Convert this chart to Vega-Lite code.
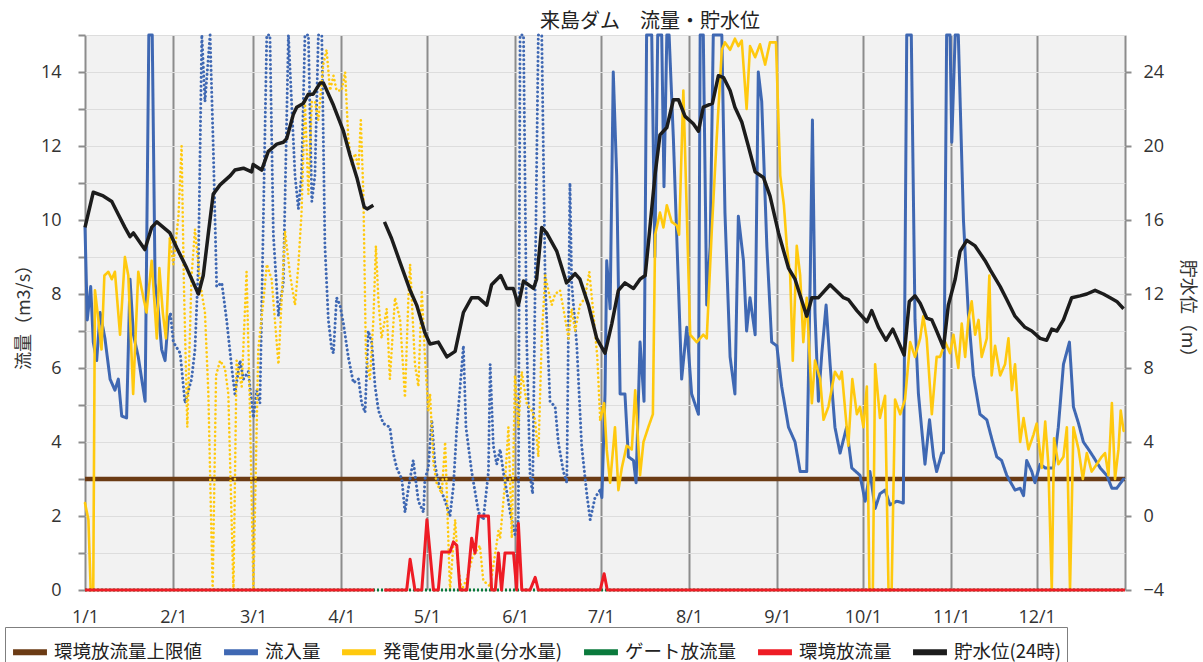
{
  "$schema": "https://vega.github.io/schema/vega-lite/v6.json",
  "width": 1040,
  "height": 555,
  "autosize": "none",
  "padding": {"left": 85, "top": 35, "right": 78, "bottom": 72},
  "background": "white",
  "title": {"text": "来島ダム　流量・貯水位", "font": "Noto Sans CJK JP", "fontSize": 20, "fontWeight": "normal", "color": "#222", "anchor": "middle", "dx": 45, "offset": -6},
  "config": {
    "view": {"fill": "#f2f2f2", "stroke": null},
    "line": {"strokeJoin": "round", "clip": true},
    "axis": {"labelColor": "#333", "titleColor": "#333", "labelFont": "Open Sans", "labelFontSize": 18, "titleFont": "Noto Sans CJK JP", "titleFontSize": 18, "titleFontWeight": "normal", "domain": false},
    "legend": {"labelFont": "Noto Sans CJK JP", "labelFontSize": 18.5, "labelColor": "#222", "labelLimit": 400}
  },
  "datasets": {
    "inflow": [
      {"d":0,"v":9.8,"g":"a"},{"d":0.8,"v":7.3,"g":"a"},{"d":2,"v":8.2,"g":"a"},{"d":2.9,"v":6.7,"g":"a"},{"d":4.1,"v":6.2,"g":"a"},{"d":5.3,"v":7.5,"g":"a"},{"d":7,"v":6.8,"g":"a"},{"d":8.8,"v":5.7,"g":"a"},{"d":10.5,"v":5.4,"g":"a"},{"d":11.7,"v":5.7,"g":"a"},{"d":12.9,"v":4.7,"g":"a"},{"d":14.6,"v":4.65,"g":"a"},{"d":15.8,"v":8.4,"g":"a"},{"d":17,"v":6.9,"g":"a"},{"d":18.7,"v":6.3,"g":"a"},{"d":21.1,"v":5.1,"g":"a"},{"d":22.4,"v":15,"g":"a"},{"d":23.6,"v":15,"g":"a"},{"d":24.6,"v":8.3,"g":"a"},{"d":25.7,"v":7.6,"g":"a"},{"d":26.9,"v":6.5,"g":"a"},{"d":28.1,"v":6.2,"g":"a"},{"d":29.2,"v":7.3,"g":"a"},{"d":30,"v":7.45,"g":"a"},
      {"d":30,"v":7.45,"g":"b"},{"d":31,"v":6.7,"g":"b"},{"d":33.4,"v":6.4,"g":"b"},{"d":35.1,"v":5.05,"g":"b"},{"d":37.4,"v":5.7,"g":"b"},{"d":38.6,"v":6.5,"g":"b"},{"d":39.8,"v":8.8,"g":"b"},{"d":41,"v":15,"g":"b"},{"d":42.1,"v":13.2,"g":"b"},{"d":43.9,"v":15,"g":"b"},{"d":45,"v":12,"g":"b"},{"d":46.2,"v":8.2,"g":"b"},{"d":48,"v":8.3,"g":"b"},{"d":49.7,"v":7.3,"g":"b"},{"d":51.5,"v":6.0,"g":"b"},{"d":52.6,"v":5.3,"g":"b"},{"d":54.4,"v":6.2,"g":"b"},{"d":55.6,"v":5.7,"g":"b"},{"d":57.3,"v":5.9,"g":"b"},{"d":59.1,"v":4.65,"g":"b"},{"d":60.3,"v":5.4,"g":"b"},{"d":61.4,"v":5.05,"g":"b"},{"d":63.8,"v":15,"g":"b"},{"d":64.9,"v":15,"g":"b"},{"d":66.1,"v":9.6,"g":"b"},{"d":67.9,"v":7.4,"g":"b"},{"d":69.6,"v":8.3,"g":"b"},{"d":71.4,"v":15,"g":"b"},{"d":73.7,"v":11.2,"g":"b"},{"d":74.9,"v":10.3,"g":"b"},{"d":76,"v":11.2,"g":"b"},{"d":77.2,"v":15,"g":"b"},{"d":78.4,"v":15,"g":"b"},{"d":79.6,"v":10.5,"g":"b"},{"d":80.7,"v":11.2,"g":"b"},{"d":81.9,"v":15,"g":"b"},{"d":83.1,"v":15,"g":"b"},{"d":84.2,"v":9.3,"g":"b"},{"d":85.4,"v":7.3,"g":"b"},{"d":86.6,"v":6.5,"g":"b"},{"d":87.2,"v":6.4,"g":"b"},{"d":88.3,"v":7.9,"g":"b"},{"d":89.5,"v":7.7,"g":"b"},{"d":90.7,"v":7.2,"g":"b"},{"d":92.4,"v":6.3,"g":"b"},{"d":94.2,"v":5.6,"g":"b"},{"d":96,"v":5.7,"g":"b"},{"d":97.1,"v":5.05,"g":"b"},{"d":98.3,"v":4.8,"g":"b"},{"d":99.4,"v":7.0,"g":"b"},{"d":100.6,"v":6.7,"g":"b"},{"d":101.8,"v":5.5,"g":"b"},{"d":103,"v":4.85,"g":"b"},{"d":104.7,"v":4.5,"g":"b"},{"d":107,"v":4.4,"g":"b"},{"d":108.2,"v":3.7,"g":"b"},{"d":109.4,"v":3.3,"g":"b"},{"d":111.2,"v":3.0,"g":"b"},{"d":112.3,"v":2.1,"g":"b"},{"d":113.5,"v":2.75,"g":"b"},{"d":115.2,"v":3.5,"g":"b"},{"d":117,"v":2.4,"g":"b"},{"d":118.8,"v":2.1,"g":"b"},{"d":119.3,"v":3.0,"g":"b"},{"d":120.5,"v":3.3,"g":"b"},{"d":121.7,"v":4.6,"g":"b"},{"d":122.8,"v":3.4,"g":"b"},{"d":124,"v":2.9,"g":"b"},{"d":126.4,"v":2.4,"g":"b"},{"d":128.1,"v":2.0,"g":"b"},{"d":129.3,"v":2.8,"g":"b"},{"d":130.5,"v":4.4,"g":"b"},{"d":132.2,"v":6.0,"g":"b"},{"d":132.8,"v":6.6,"g":"b"},{"d":133.7,"v":4.4,"g":"b"},{"d":135.7,"v":3.2,"g":"b"},{"d":138.1,"v":2.1,"g":"b"},{"d":139.8,"v":1.9,"g":"b"},{"d":141.6,"v":3.2,"g":"b"},{"d":142.2,"v":6.1,"g":"b"},{"d":143.3,"v":3.9,"g":"b"},{"d":144.5,"v":3.4,"g":"b"},{"d":145.7,"v":3.8,"g":"b"},{"d":146.8,"v":3.2,"g":"b"},{"d":148.6,"v":2.4,"g":"b"},{"d":149.2,"v":2.1,"g":"b"},{"d":150.9,"v":1.5,"g":"b"},{"d":152.1,"v":1.9,"g":"b"},{"d":152.7,"v":15,"g":"b"},{"d":153.9,"v":15,"g":"b"},{"d":155,"v":6.8,"g":"b"},{"d":156.2,"v":3.1,"g":"b"},{"d":157.1,"v":2.6,"g":"b"},{"d":158,"v":8.3,"g":"b"},{"d":159.1,"v":15,"g":"b"},{"d":160.3,"v":15,"g":"b"},{"d":161.5,"v":8.3,"g":"b"},{"d":163.2,"v":5.1,"g":"b"},{"d":165,"v":4.95,"g":"b"},{"d":166.1,"v":4.0,"g":"b"},{"d":167.9,"v":3.2,"g":"b"},{"d":169.1,"v":2.9,"g":"b"},{"d":169.7,"v":7.3,"g":"b"},{"d":170.2,"v":11.0,"g":"b"},{"d":170.8,"v":8.3,"g":"b"},{"d":172.6,"v":6.6,"g":"b"},{"d":174.3,"v":3.9,"g":"b"},{"d":176.1,"v":2.6,"g":"b"},{"d":177.3,"v":1.9,"g":"b"},{"d":179,"v":2.5,"g":"b"},{"d":180.8,"v":2.7,"g":"b"},
      {"d":180.8,"v":2.7,"g":"c"},{"d":181.4,"v":2.5,"g":"c"},{"d":182.5,"v":5.3,"g":"c"},{"d":183.1,"v":8.9,"g":"c"},{"d":184.3,"v":7.6,"g":"c"},{"d":185.4,"v":14.0,"g":"c"},{"d":186.6,"v":11.2,"g":"c"},{"d":187.8,"v":5.3,"g":"c"},{"d":189.5,"v":5.3,"g":"c"},{"d":190.7,"v":3.6,"g":"c"},{"d":192.5,"v":3.5,"g":"c"},{"d":193.4,"v":2.9,"g":"c"},{"d":194.8,"v":6.7,"g":"c"},{"d":196.2,"v":5.1,"g":"c"},{"d":197.1,"v":15,"g":"c"},{"d":198.9,"v":15,"g":"c"},{"d":200,"v":9,"g":"c"},{"d":201,"v":15,"g":"c"},{"d":202.4,"v":15,"g":"c"},{"d":203.2,"v":10.9,"g":"c"},{"d":204.2,"v":15,"g":"c"},{"d":205,"v":15,"g":"c"},{"d":206.5,"v":12.2,"g":"c"},{"d":209.4,"v":5.7,"g":"c"},{"d":211.2,"v":7.1,"g":"c"},{"d":212.9,"v":5.3,"g":"c"},{"d":215.3,"v":4.75,"g":"c"},{"d":215.9,"v":15,"g":"c"},{"d":217,"v":15,"g":"c"},{"d":218.2,"v":7.7,"g":"c"},{"d":219.4,"v":9.3,"g":"c"},{"d":220.5,"v":15,"g":"c"},{"d":223.5,"v":15,"g":"c"},{"d":224.6,"v":10.2,"g":"c"},{"d":226.4,"v":6.3,"g":"c"},{"d":228.1,"v":5.3,"g":"c"},{"d":229.3,"v":10.1,"g":"c"},{"d":231.1,"v":8.9,"g":"c"},{"d":232.2,"v":7.0,"g":"c"},{"d":233.4,"v":7.9,"g":"c"},{"d":235.2,"v":6.9,"g":"c"},{"d":236.3,"v":14.0,"g":"c"},{"d":237.5,"v":13.2,"g":"c"},{"d":239.3,"v":9.3,"g":"c"},{"d":241,"v":6.7,"g":"c"},{"d":242.8,"v":6.6,"g":"c"},{"d":244.5,"v":5.5,"g":"c"},{"d":246.9,"v":4.4,"g":"c"},{"d":249.2,"v":4.0,"g":"c"},{"d":251,"v":3.2,"g":"c"},{"d":253.3,"v":3.2,"g":"c"},{"d":254.5,"v":8.3,"g":"c"},{"d":255.3,"v":12.7,"g":"c"},{"d":256.2,"v":7.5,"g":"c"},{"d":257.4,"v":5.1,"g":"c"},{"d":258.6,"v":6.4,"g":"c"},{"d":260.1,"v":7.7,"g":"c"},{"d":261.5,"v":6.1,"g":"c"},{"d":263.2,"v":4.4,"g":"c"},{"d":265,"v":3.7,"g":"c"},{"d":267.3,"v":4.4,"g":"c"},{"d":269.1,"v":3.3,"g":"c"},{"d":272,"v":3.1,"g":"c"},{"d":273.8,"v":2.4,"g":"c"},{"d":275.5,"v":3.2,"g":"c"},{"d":277.3,"v":2.2,"g":"c"},{"d":279,"v":2.6,"g":"c"},{"d":280.8,"v":2.7,"g":"c"},{"d":282.5,"v":2.3,"g":"c"},{"d":284.9,"v":2.4,"g":"c"},{"d":287.2,"v":2.35,"g":"c"},{"d":288.4,"v":15,"g":"c"},{"d":290,"v":15,"g":"c"},{"d":291.3,"v":7.3,"g":"c"},{"d":292.5,"v":5.3,"g":"c"},{"d":294.8,"v":3.4,"g":"c"},{"d":296.4,"v":4.6,"g":"c"},{"d":297.8,"v":3.6,"g":"c"},{"d":298.9,"v":3.2,"g":"c"},{"d":300.7,"v":3.7,"g":"c"},{"d":301.3,"v":3.7,"g":"c"},{"d":302.4,"v":15,"g":"c"},{"d":303.6,"v":15,"g":"c"},{"d":304.2,"v":12.1,"g":"c"},{"d":305.4,"v":15,"g":"c"},{"d":306.5,"v":15,"g":"c"},{"d":308.3,"v":10.0,"g":"c"},{"d":310,"v":7.5,"g":"c"},{"d":311.8,"v":5.8,"g":"c"},{"d":314.1,"v":4.75,"g":"c"},{"d":316.5,"v":4.6,"g":"c"},{"d":318.2,"v":4.1,"g":"c"},{"d":320,"v":3.6,"g":"c"},{"d":321.7,"v":3.5,"g":"c"},{"d":323.5,"v":3.1,"g":"c"},{"d":326.4,"v":2.7,"g":"c"},{"d":328.2,"v":2.75,"g":"c"},{"d":329.4,"v":2.55,"g":"c"},{"d":330.5,"v":3.5,"g":"c"},{"d":332.3,"v":3.2,"g":"c"},{"d":333.4,"v":2.9,"g":"c"},{"d":335.2,"v":3.4,"g":"c"},{"d":337,"v":3.3,"g":"c"},{"d":339.9,"v":3.3,"g":"c"},{"d":341.6,"v":4.4,"g":"c"},{"d":343.4,"v":6.1,"g":"c"},{"d":345.5,"v":6.7,"g":"c"},{"d":346.9,"v":4.95,"g":"c"},{"d":348.7,"v":4.5,"g":"c"},{"d":350.4,"v":4.0,"g":"c"},{"d":352.2,"v":3.8,"g":"c"},{"d":353.9,"v":3.6,"g":"c"},{"d":356.3,"v":3.3,"g":"c"},{"d":358.6,"v":3.1,"g":"c"},{"d":360.4,"v":2.75,"g":"c"},{"d":362.1,"v":2.75,"g":"c"},{"d":364.5,"v":3.0,"g":"c"}
    ],
    "power": [
      {"d":0,"v":2.35,"g":"a"},{"d":1.2,"v":1.9,"g":"a"},{"d":2,"v":0,"g":"a"},{"d":2.9,"v":0,"g":"a"},{"d":3.5,"v":8.1,"g":"a"},{"d":4.7,"v":7.3,"g":"a"},{"d":5.8,"v":6.5,"g":"a"},{"d":6.8,"v":8.5,"g":"a"},{"d":8.2,"v":8.6,"g":"a"},{"d":9.4,"v":8.4,"g":"a"},{"d":10.5,"v":8.6,"g":"a"},{"d":12.3,"v":6.9,"g":"a"},{"d":14,"v":9.0,"g":"a"},{"d":15.2,"v":8.5,"g":"a"},{"d":16.9,"v":5.3,"g":"a"},{"d":18.7,"v":8.6,"g":"a"},{"d":20.5,"v":7.9,"g":"a"},{"d":21.6,"v":7.5,"g":"a"},{"d":23.4,"v":8.9,"g":"a"},{"d":25.2,"v":6.8,"g":"a"},{"d":26.1,"v":8.7,"g":"a"},{"d":27.3,"v":7.5,"g":"a"},{"d":28.4,"v":6.8,"g":"a"},{"d":29.8,"v":9.5,"g":"a"},
      {"d":29.8,"v":9.5,"g":"b"},{"d":31,"v":8.8,"g":"b"},{"d":32.8,"v":10.1,"g":"b"},{"d":33.9,"v":12.0,"g":"b"},{"d":34.7,"v":8.3,"g":"b"},{"d":35.9,"v":4.4,"g":"b"},{"d":37.4,"v":8.5,"g":"b"},{"d":38.6,"v":9.75,"g":"b"},{"d":40.4,"v":8.3,"g":"b"},{"d":42.1,"v":7.5,"g":"b"},{"d":43.3,"v":5.3,"g":"b"},{"d":44.8,"v":0,"g":"b"},{"d":46,"v":5.8,"g":"b"},{"d":47.4,"v":6.2,"g":"b"},{"d":49.1,"v":6.0,"g":"b"},{"d":50.3,"v":5.3,"g":"b"},{"d":52.1,"v":0,"g":"b"},{"d":53.2,"v":6.2,"g":"b"},{"d":55,"v":5.5,"g":"b"},{"d":56.7,"v":8.6,"g":"b"},{"d":57.9,"v":4.85,"g":"b"},{"d":59.1,"v":0,"g":"b"},{"d":60.8,"v":6.5,"g":"b"},{"d":62.6,"v":7.8,"g":"b"},{"d":63.8,"v":8.8,"g":"b"},{"d":65.5,"v":8.4,"g":"b"},{"d":67.9,"v":6.1,"g":"b"},{"d":70.2,"v":9.7,"g":"b"},{"d":72,"v":8.5,"g":"b"},{"d":73.7,"v":7.7,"g":"b"},{"d":74.9,"v":8.8,"g":"b"},{"d":76,"v":10.2,"g":"b"},{"d":77.2,"v":13.2,"g":"b"},{"d":78.4,"v":10.7,"g":"b"},{"d":79.6,"v":13.2,"g":"b"},{"d":80.7,"v":13.2,"g":"b"},{"d":81.9,"v":12.7,"g":"b"},{"d":83.6,"v":14.2,"g":"b"},{"d":84.8,"v":14.6,"g":"b"},{"d":86,"v":13.5,"g":"b"},{"d":87.2,"v":13.9,"g":"b"},{"d":88.3,"v":13.5,"g":"b"},{"d":90.1,"v":13.5,"g":"b"},{"d":91.3,"v":14.0,"g":"b"},{"d":92.4,"v":12.2,"g":"b"},{"d":93.6,"v":11.5,"g":"b"},{"d":94.8,"v":11.8,"g":"b"},{"d":96,"v":11.4,"g":"b"},{"d":96.8,"v":12.7,"g":"b"},{"d":97.7,"v":10.7,"g":"b"},{"d":98.6,"v":6.3,"g":"b"},{"d":100,"v":5.7,"g":"b"},{"d":101.2,"v":7.3,"g":"b"},{"d":102.1,"v":9.3,"g":"b"},{"d":103,"v":7.8,"g":"b"},{"d":104.1,"v":6.8,"g":"b"},{"d":105.9,"v":7.6,"g":"b"},{"d":107,"v":5.7,"g":"b"},{"d":108.8,"v":7.9,"g":"b"},{"d":110.6,"v":7.3,"g":"b"},{"d":112.3,"v":5.2,"g":"b"},{"d":113.5,"v":7.9,"g":"b"},{"d":114.1,"v":8.8,"g":"b"},{"d":115.8,"v":6.1,"g":"b"},{"d":117,"v":5.5,"g":"b"},{"d":118.2,"v":8.1,"g":"b"},{"d":119.3,"v":6.3,"g":"b"},{"d":120.5,"v":4.85,"g":"b"},{"d":121.1,"v":5.3,"g":"b"},{"d":122.3,"v":3.4,"g":"b"},{"d":123.4,"v":2.9,"g":"b"},{"d":125.2,"v":2.6,"g":"b"},{"d":126.4,"v":4.0,"g":"b"},{"d":128.1,"v":0,"g":"b"},{"d":129.9,"v":1.9,"g":"b"},{"d":131,"v":0.6,"g":"b"},{"d":132.2,"v":0,"g":"b"},{"d":134,"v":0.3,"g":"b"},{"d":136,"v":0.9,"g":"b"},{"d":138.6,"v":1.2,"g":"b"},{"d":139.8,"v":0.25,"g":"b"},{"d":142.2,"v":0.1,"g":"b"},{"d":144,"v":1.0,"g":"b"},{"d":145.1,"v":1.6,"g":"b"},{"d":145.7,"v":1.4,"g":"b"},{"d":147.4,"v":2.9,"g":"b"},{"d":148.6,"v":4.4,"g":"b"},{"d":149.8,"v":1.4,"g":"b"},{"d":150.9,"v":5.8,"g":"b"},{"d":152.1,"v":4.4,"g":"b"},{"d":153.3,"v":5.9,"g":"b"},{"d":155,"v":5.05,"g":"b"},{"d":156.8,"v":4.85,"g":"b"},{"d":158,"v":4.6,"g":"b"},{"d":159.1,"v":3.6,"g":"b"},{"d":160.3,"v":6.8,"g":"b"},{"d":161.5,"v":8.5,"g":"b"},{"d":162.6,"v":8.1,"g":"b"},{"d":163.8,"v":7.7,"g":"b"},{"d":165,"v":8.0,"g":"b"},{"d":166.7,"v":8.1,"g":"b"},{"d":167.9,"v":7.6,"g":"b"},{"d":169.7,"v":6.8,"g":"b"},{"d":170.8,"v":7.6,"g":"b"},{"d":172,"v":7.0,"g":"b"},{"d":173.7,"v":7.7,"g":"b"},{"d":175.5,"v":7.9,"g":"b"},{"d":177,"v":8.6,"g":"b"},{"d":178.4,"v":7.5,"g":"b"},{"d":179.8,"v":6.3,"g":"b"},{"d":180.8,"v":4.6,"g":"b"},
      {"d":180.8,"v":4.6,"g":"c"},{"d":182.2,"v":5.05,"g":"c"},{"d":183.1,"v":3.8,"g":"c"},{"d":184.3,"v":2.9,"g":"c"},{"d":186,"v":4.4,"g":"c"},{"d":187.2,"v":2.7,"g":"c"},{"d":188.4,"v":3.3,"g":"c"},{"d":190.1,"v":3.9,"g":"c"},{"d":191.9,"v":3.8,"g":"c"},{"d":193.1,"v":5.4,"g":"c"},{"d":194.8,"v":3.1,"g":"c"},{"d":196,"v":4.0,"g":"c"},{"d":197.7,"v":4.4,"g":"c"},{"d":199.3,"v":4.75,"g":"c"},{"d":200.1,"v":9.6,"g":"c"},{"d":201.8,"v":10.2,"g":"c"},{"d":203,"v":9.8,"g":"c"},{"d":204.2,"v":10.4,"g":"c"},{"d":205.9,"v":9.95,"g":"c"},{"d":207.7,"v":9.85,"g":"c"},{"d":208.5,"v":9.6,"g":"c"},{"d":210,"v":13.5,"g":"c"},{"d":211.2,"v":10.2,"g":"c"},{"d":212.4,"v":6.9,"g":"c"},{"d":214.7,"v":6.7,"g":"c"},{"d":217,"v":6.9,"g":"c"},{"d":218.2,"v":6.8,"g":"c"},{"d":220,"v":9.75,"g":"c"},{"d":221.7,"v":12.2,"g":"c"},{"d":223.5,"v":14.6,"g":"c"},{"d":224.6,"v":14.8,"g":"c"},{"d":226.4,"v":14.6,"g":"c"},{"d":228.1,"v":14.9,"g":"c"},{"d":229.3,"v":14.7,"g":"c"},{"d":230.5,"v":14.85,"g":"c"},{"d":232.2,"v":13.0,"g":"c"},{"d":233.4,"v":14.7,"g":"c"},{"d":235.2,"v":14.4,"g":"c"},{"d":236.9,"v":14.75,"g":"c"},{"d":238.7,"v":14.2,"g":"c"},{"d":240.4,"v":14.8,"g":"c"},{"d":242.5,"v":14.8,"g":"c"},{"d":244,"v":11.2,"g":"c"},{"d":245.3,"v":10.4,"g":"c"},{"d":246.3,"v":9.3,"g":"c"},{"d":247.5,"v":8.5,"g":"c"},{"d":248.4,"v":6.2,"g":"c"},{"d":249.8,"v":9.3,"g":"c"},{"d":251,"v":8.5,"g":"c"},{"d":252.1,"v":6.7,"g":"c"},{"d":253.3,"v":7.9,"g":"c"},{"d":255.1,"v":5.05,"g":"c"},{"d":256.2,"v":6.2,"g":"c"},{"d":258,"v":5.7,"g":"c"},{"d":259.2,"v":4.6,"g":"c"},{"d":260.9,"v":4.95,"g":"c"},{"d":263.2,"v":5.9,"g":"c"},{"d":264.8,"v":5.7,"g":"c"},{"d":265.6,"v":5.9,"g":"c"},{"d":267.9,"v":3.9,"g":"c"},{"d":269.3,"v":5.7,"g":"c"},{"d":270.9,"v":4.75,"g":"c"},{"d":272,"v":4.95,"g":"c"},{"d":273.2,"v":4.4,"g":"c"},{"d":274.4,"v":5.5,"g":"c"},{"d":275.3,"v":0,"g":"c"},{"d":276.5,"v":0,"g":"c"},{"d":277.3,"v":6.1,"g":"c"},{"d":279,"v":4.65,"g":"c"},{"d":280.8,"v":5.25,"g":"c"},{"d":282,"v":0,"g":"c"},{"d":283.1,"v":0,"g":"c"},{"d":284.3,"v":5.15,"g":"c"},{"d":286.1,"v":4.75,"g":"c"},{"d":287.8,"v":5.15,"g":"c"},{"d":289.6,"v":6.7,"g":"c"},{"d":291.3,"v":6.3,"g":"c"},{"d":293.1,"v":6.8,"g":"c"},{"d":294.2,"v":7.4,"g":"c"},{"d":295.4,"v":6.8,"g":"c"},{"d":297.2,"v":4.75,"g":"c"},{"d":298.9,"v":6.3,"g":"c"},{"d":300.1,"v":6.3,"g":"c"},{"d":301.9,"v":6.7,"g":"c"},{"d":303.6,"v":6.4,"g":"c"},{"d":304.8,"v":6.9,"g":"c"},{"d":306.5,"v":6.0,"g":"c"},{"d":307.7,"v":7.2,"g":"c"},{"d":308.9,"v":6.3,"g":"c"},{"d":310,"v":7.3,"g":"c"},{"d":311.2,"v":7.8,"g":"c"},{"d":312.4,"v":6.9,"g":"c"},{"d":313.6,"v":7.3,"g":"c"},{"d":314.7,"v":6.3,"g":"c"},{"d":316.5,"v":6.8,"g":"c"},{"d":317.4,"v":8.5,"g":"c"},{"d":318.2,"v":5.8,"g":"c"},{"d":319.4,"v":6.6,"g":"c"},{"d":321.2,"v":5.8,"g":"c"},{"d":322.9,"v":6.1,"g":"c"},{"d":324.1,"v":6.8,"g":"c"},{"d":325.3,"v":5.4,"g":"c"},{"d":326.4,"v":6.1,"g":"c"},{"d":328.2,"v":4.0,"g":"c"},{"d":329.4,"v":4.65,"g":"c"},{"d":331.1,"v":3.8,"g":"c"},{"d":332.9,"v":4.2,"g":"c"},{"d":334,"v":4.5,"g":"c"},{"d":335.8,"v":3.3,"g":"c"},{"d":337,"v":4.55,"g":"c"},{"d":338.1,"v":3.4,"g":"c"},{"d":339.3,"v":0,"g":"c"},{"d":340.1,"v":4.1,"g":"c"},{"d":341.6,"v":3.4,"g":"c"},{"d":343.4,"v":3.6,"g":"c"},{"d":344.6,"v":4.4,"g":"c"},{"d":345.7,"v":0,"g":"c"},{"d":346.9,"v":4.4,"g":"c"},{"d":348.7,"v":3.8,"g":"c"},{"d":350.2,"v":3.0,"g":"c"},{"d":351.6,"v":3.7,"g":"c"},{"d":353.3,"v":3.2,"g":"c"},{"d":355.1,"v":3.4,"g":"c"},{"d":356.8,"v":3.6,"g":"c"},{"d":358,"v":3.7,"g":"c"},{"d":359.2,"v":3.1,"g":"c"},{"d":360.4,"v":5.05,"g":"c"},{"d":361.5,"v":3.0,"g":"c"},{"d":362.7,"v":3.8,"g":"c"},{"d":363.5,"v":4.85,"g":"c"},{"d":364.5,"v":4.3,"g":"c"}
    ],
    "env": [
      {"d":0,"v":0,"g":"a"},{"d":101.5,"v":0,"g":"a"},
      {"d":105,"v":0,"g":"b"},{"d":112.9,"v":0,"g":"b"},{"d":114.1,"v":0.83,"g":"b"},{"d":115.8,"v":0,"g":"b"},{"d":118.2,"v":0,"g":"b"},{"d":120,"v":1.9,"g":"b"},{"d":122.3,"v":0,"g":"b"},{"d":124,"v":0,"g":"b"},{"d":125.2,"v":1.03,"g":"b"},{"d":128.1,"v":1.03,"g":"b"},{"d":129.3,"v":1.3,"g":"b"},{"d":130.5,"v":1.2,"g":"b"},{"d":131.6,"v":0,"g":"b"},{"d":134,"v":0,"g":"b"},{"d":135.7,"v":1.4,"g":"b"},{"d":136.9,"v":1.0,"g":"b"},{"d":138.1,"v":2.0,"g":"b"},{"d":141.6,"v":2.0,"g":"b"},{"d":142.7,"v":0,"g":"b"},{"d":144,"v":0,"g":"b"},{"d":145.1,"v":1.0,"g":"b"},{"d":146.2,"v":0,"g":"b"},{"d":147.4,"v":1.0,"g":"b"},{"d":150.4,"v":1.0,"g":"b"},{"d":151.5,"v":0,"g":"b"},{"d":152.1,"v":1.8,"g":"b"},{"d":153.3,"v":0,"g":"b"},{"d":156.2,"v":0,"g":"b"},{"d":158,"v":0.34,"g":"b"},{"d":159.1,"v":0,"g":"b"},{"d":180.8,"v":0,"g":"b"},{"d":182.2,"v":0.44,"g":"b"},{"d":183.3,"v":0,"g":"b"},{"d":365,"v":0,"g":"b"}
    ],
    "gate": [{"d":0,"v":0},{"d":365,"v":0}],
    "level": [
      {"d":0,"v":15.6,"g":"a"},{"d":2.9,"v":17.5,"g":"a"},{"d":6.4,"v":17.3,"g":"a"},{"d":9.4,"v":17.0,"g":"a"},{"d":11.7,"v":16.3,"g":"a"},{"d":14,"v":15.6,"g":"a"},{"d":15.8,"v":15.1,"g":"a"},{"d":17,"v":15.3,"g":"a"},{"d":21,"v":14.4,"g":"a"},{"d":23.4,"v":15.6,"g":"a"},{"d":25.2,"v":15.9,"g":"a"},{"d":27.5,"v":15.6,"g":"a"},{"d":29.8,"v":15.3,"g":"a"},{"d":32.2,"v":14.5,"g":"a"},{"d":35.7,"v":13.4,"g":"a"},{"d":39.8,"v":12.0,"g":"a"},{"d":41.5,"v":13.0,"g":"a"},{"d":43.3,"v":15.3,"g":"a"},{"d":45,"v":17.4,"g":"a"},{"d":47.4,"v":17.9,"g":"a"},{"d":51,"v":18.4,"g":"a"},{"d":52.6,"v":18.7,"g":"a"},{"d":55.6,"v":18.8,"g":"a"},{"d":58.5,"v":18.6,"g":"a"},{"d":59,"v":19.0,"g":"a"},{"d":62,"v":18.7,"g":"a"},{"d":64.3,"v":19.7,"g":"a"},{"d":67.3,"v":20.1,"g":"a"},{"d":69.6,"v":20.2,"g":"a"},{"d":70.8,"v":20.4,"g":"a"},{"d":73.1,"v":21.7,"g":"a"},{"d":74.3,"v":22.1,"g":"a"},{"d":76.6,"v":22.3,"g":"a"},{"d":78.4,"v":22.8,"g":"a"},{"d":80.1,"v":22.8,"g":"a"},{"d":82.5,"v":23.4,"g":"a"},{"d":83.7,"v":23.4,"g":"a"},{"d":87.2,"v":22.2,"g":"a"},{"d":90.7,"v":20.8,"g":"a"},{"d":93,"v":19.5,"g":"a"},{"d":95.4,"v":18.3,"g":"a"},{"d":98,"v":16.7,"g":"a"},{"d":99,"v":16.6,"g":"a"},{"d":101.2,"v":16.8,"g":"a"},
      {"d":105.1,"v":15.9,"g":"b"},{"d":107.6,"v":15.0,"g":"b"},{"d":110.6,"v":13.7,"g":"b"},{"d":114.1,"v":12.2,"g":"b"},{"d":116.4,"v":11.4,"g":"b"},{"d":119.3,"v":9.9,"g":"b"},{"d":121.1,"v":9.3,"g":"b"},{"d":124,"v":9.4,"g":"b"},{"d":127,"v":8.6,"g":"b"},{"d":129.9,"v":8.9,"g":"b"},{"d":132.8,"v":11.0,"g":"b"},{"d":135.7,"v":11.8,"g":"b"},{"d":138.1,"v":11.8,"g":"b"},{"d":141,"v":11.4,"g":"b"},{"d":142.7,"v":12.5,"g":"b"},{"d":145.9,"v":13.0,"g":"b"},{"d":148,"v":12.3,"g":"b"},{"d":150.3,"v":12.3,"g":"b"},{"d":152.1,"v":11.4,"g":"b"},{"d":153.9,"v":12.7,"g":"b"},{"d":157.4,"v":12.3,"g":"b"},{"d":158.5,"v":12.8,"g":"b"},{"d":160.3,"v":15.6,"g":"b"},{"d":162,"v":15.3,"g":"b"},{"d":165.6,"v":14.3,"g":"b"},{"d":169,"v":12.6,"g":"b"},{"d":172,"v":13.1,"g":"b"},{"d":173.7,"v":12.8,"g":"b"},{"d":176.7,"v":11.4,"g":"b"},{"d":179.6,"v":9.6,"g":"b"},{"d":182.5,"v":8.8,"g":"b"},{"d":184.9,"v":10.4,"g":"b"},{"d":187.2,"v":12.2,"g":"b"},{"d":189.5,"v":12.6,"g":"b"},{"d":192.5,"v":12.3,"g":"b"},{"d":194.8,"v":12.8,"g":"b"},{"d":196.6,"v":13.0,"g":"b"},{"d":197.7,"v":14.7,"g":"b"},{"d":200.1,"v":18.5,"g":"b"},{"d":201.8,"v":20.6,"g":"b"},{"d":204.2,"v":21.0,"g":"b"},{"d":206.5,"v":22.5,"g":"b"},{"d":208.3,"v":22.5,"g":"b"},{"d":210.6,"v":21.6,"g":"b"},{"d":213.5,"v":21.2,"g":"b"},{"d":215.3,"v":20.8,"g":"b"},{"d":217,"v":22.1,"g":"b"},{"d":220.2,"v":22.3,"g":"b"},{"d":222.3,"v":23.8,"g":"b"},{"d":224.1,"v":23.7,"g":"b"},{"d":226.4,"v":23.0,"g":"b"},{"d":228.1,"v":22.1,"g":"b"},{"d":230.5,"v":21.3,"g":"b"},{"d":232.8,"v":20.0,"g":"b"},{"d":235.2,"v":18.6,"g":"b"},{"d":238.1,"v":18.3,"g":"b"},{"d":240.4,"v":17.3,"g":"b"},{"d":243.4,"v":15.3,"g":"b"},{"d":246.9,"v":13.4,"g":"b"},{"d":249.2,"v":12.8,"g":"b"},{"d":253.3,"v":10.8,"g":"b"},{"d":255.1,"v":11.8,"g":"b"},{"d":257.4,"v":11.8,"g":"b"},{"d":261.5,"v":12.5,"g":"b"},{"d":266.2,"v":11.8,"g":"b"},{"d":267.9,"v":11.7,"g":"b"},{"d":270.9,"v":11.1,"g":"b"},{"d":274.4,"v":10.5,"g":"b"},{"d":276.1,"v":11.1,"g":"b"},{"d":278.5,"v":10.2,"g":"b"},{"d":281.1,"v":9.5,"g":"b"},{"d":283.5,"v":10.1,"g":"b"},{"d":287.5,"v":8.7,"g":"b"},{"d":289.3,"v":11.6,"g":"b"},{"d":291.3,"v":11.9,"g":"b"},{"d":293.1,"v":11.5,"g":"b"},{"d":295.4,"v":10.7,"g":"b"},{"d":297.2,"v":10.6,"g":"b"},{"d":298.9,"v":10.0,"g":"b"},{"d":301.3,"v":9.1,"g":"b"},{"d":303,"v":11.4,"g":"b"},{"d":305.4,"v":12.8,"g":"b"},{"d":307.1,"v":14.3,"g":"b"},{"d":309.5,"v":14.9,"g":"b"},{"d":312.4,"v":14.6,"g":"b"},{"d":315.9,"v":13.8,"g":"b"},{"d":317.7,"v":13.3,"g":"b"},{"d":321.2,"v":12.4,"g":"b"},{"d":323.5,"v":11.7,"g":"b"},{"d":326.4,"v":10.8,"g":"b"},{"d":329.9,"v":10.2,"g":"b"},{"d":332.3,"v":10.0,"g":"b"},{"d":335.2,"v":9.6,"g":"b"},{"d":337.5,"v":9.5,"g":"b"},{"d":339.3,"v":10.1,"g":"b"},{"d":341.1,"v":10.0,"g":"b"},{"d":343.4,"v":10.6,"g":"b"},{"d":346.3,"v":11.8,"g":"b"},{"d":349.2,"v":11.9,"g":"b"},{"d":351.6,"v":12.0,"g":"b"},{"d":354.5,"v":12.2,"g":"b"},{"d":357.4,"v":12.0,"g":"b"},{"d":359.8,"v":11.8,"g":"b"},{"d":362.1,"v":11.6,"g":"b"},{"d":364.5,"v":11.2,"g":"b"}
    ],
    "limit": [{"d":0,"v":3},{"d":365,"v":3}]
  },
  "encoding": {
    "x": {"field": "d", "type": "quantitative",
      "scale": {"domain": [0, 365], "nice": false, "zero": false},
      "axis": {"title": null, "values": [0,31,59,90,120,151,181,212,243,273,304,334,365],
        "labelExpr": "datum.value==365?'':(indexof([0,31,59,90,120,151,181,212,243,273,304,334],datum.value)+1)+'/1'",
        "grid": true, "gridColor": "#8c8c8c", "gridWidth": 2, "ticks": false,
        "labelFlush": false, "labelOverlap": false, "labelPadding": 18, "labelFontSize": 18}}
  },
  "layer": [
    {
      "encoding": {
        "y": {"field": "v", "type": "quantitative",
          "scale": {"domain": [0, 15], "nice": false, "zero": false},
          "axis": {"title": "流量（m3/s）", "values": [0,1,2,3,4,5,6,7,8,9,10,11,12,13,14,15],
            "labelExpr": "datum.value%2==0&&datum.value<15?datum.value:''",
            "grid": true, "tickSize": 7, "tickColor": "#8c8c8c", "tickWidth": 2, "labelPadding": 17, "titlePadding": 7,
            "labelOverlap": false, "labelFlush": false,
            "encode": {
              "grid": {"update": {"stroke": {"signal": "datum.value==15?'#3a3a3a':(datum.value%2==0?'#a0a0a0':'#c8c8c8')"}, "strokeWidth": {"signal": "datum.value==15?2.5:(datum.value%2==0?2:1.5)"}}},
              "ticks": {"update": {"strokeOpacity": {"signal": "datum.value%2==0&&datum.value<15?1:0"}}}
            }}}
      },
      "layer": [
        {"data": {"name": "limit"}, "mark": {"type": "line", "strokeWidth": 4.5},
          "encoding": {"color": {"datum": "環境放流量上限値", "type": "nominal",
            "scale": {"domain": ["環境放流量上限値","流入量","発電使用水量(分水量)","ゲート放流量","環境放流量","貯水位(24時)"], "range": ["#6b3b14","#3f68b3","#ffc90e","#0a7a3c","#ee1c25","#1c1c1c"]},
            "legend": {"orient": "none", "legendX": -80, "legendY": 592, "direction": "horizontal", "columns": 6, "title": null,
              "symbolType": "stroke", "symbolStrokeWidth": 6, "symbolSize": 1150, "columnPadding": 18, "labelOffset": 4,
              "padding": 5, "strokeColor": "#7f7f7f", "fillColor": "white"}}}},
        {"data": {"name": "inflow"}, "mark": {"type": "line", "strokeWidth": 3, "strokeCap": "round"},
          "encoding": {"color": {"datum": "流入量", "type": "nominal"},
            "strokeDash": {"field": "g", "type": "nominal", "scale": {"domain": ["a","b","c"], "range": [[1,0],[0.1,4.3],[1,0]]}, "legend": null}}},
        {"data": {"name": "power"}, "mark": {"type": "line", "strokeWidth": 2.6, "strokeCap": "round"},
          "encoding": {"color": {"datum": "発電使用水量(分水量)", "type": "nominal"},
            "strokeDash": {"field": "g", "type": "nominal", "scale": {"domain": ["a","b","c"], "range": [[1,0],[0.1,4.3],[1,0]]}, "legend": null}}},
        {"data": {"name": "gate"}, "mark": {"type": "line", "strokeWidth": 3, "strokeDash": [2,2], "clip": false},
          "encoding": {"color": {"datum": "ゲート放流量", "type": "nominal"}}},
        {"data": {"name": "env"}, "mark": {"type": "line", "strokeWidth": 3, "clip": false},
          "encoding": {"color": {"datum": "環境放流量", "type": "nominal"}, "detail": {"field": "g"}}},
        {"data": {"values": [{"note": "放流上限　２．０ m3/s"}]}, "mark": {"type": "text", "align": "left", "baseline": "middle", "font": "Noto Sans CJK JP", "fontSize": 19, "color": "#333"},
          "encoding": {"x": {"datum": 3.5}, "y": {"datum": 2.32}, "text": {"field": "note"}}}
      ]
    },
    {
      "data": {"name": "level"},
      "mark": {"type": "line", "strokeWidth": 3.5},
      "encoding": {
        "y": {"field": "v", "type": "quantitative",
          "scale": {"domain": [-4, 26], "nice": false, "zero": false},
          "axis": {"orient": "right", "title": "貯水位（m）", "titleAngle": 90, "values": [-4,0,4,8,12,16,20,24], "grid": false,
            "tickSize": 6, "tickColor": "#8c8c8c", "tickWidth": 2, "labelPadding": 12, "titlePadding": 14}},
        "color": {"datum": "貯水位(24時)", "type": "nominal"},
        "detail": {"field": "g"}
      }
    }
  ],
  "resolve": {"scale": {"y": "independent"}}
}
